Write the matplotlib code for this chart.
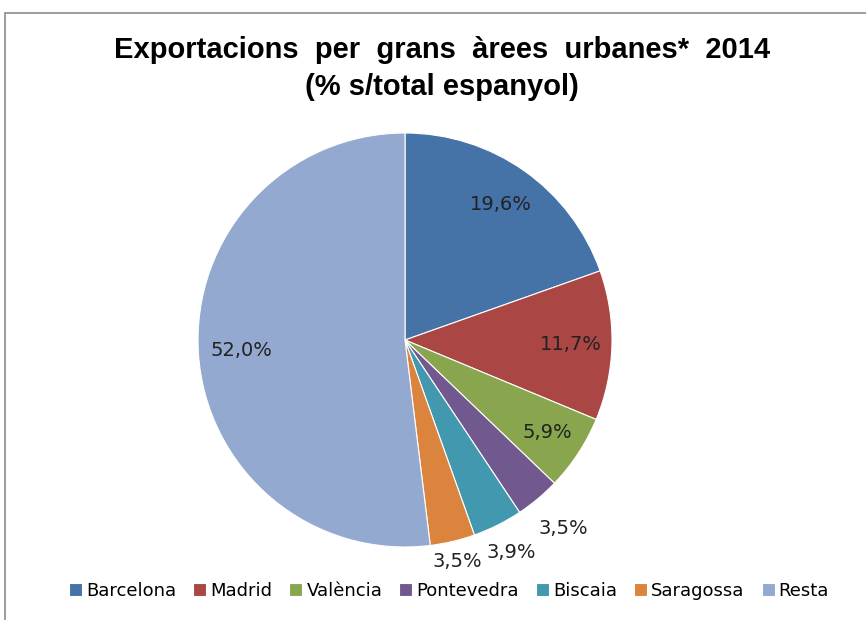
import matplotlib.pyplot as plt
import numpy as np
from matplotlib.patches import Rectangle

areas = ['Barcelona', 'Madrid', 'València', 'Pontevedra', 'Biscaia', 'Saragossa', 'Resta']
shares = [19.6, 11.7, 5.9, 3.5, 3.9, 3.5, 52.0]
colors = ['#4572A7', '#AA4643', '#89A54E', '#71588F', '#4198AF', '#DB843D', '#93A9CF']
# radial position of each data label (fraction of radius)
label_r = [0.80, 0.80, 0.82, 1.19, 1.15, 1.10, 0.79]

fig = plt.figure(figsize=(8.66, 6.2), dpi=100)

# chart frame (cut by the right and bottom image edges)
fig.patches.append(Rectangle((5 / 866, -0.05), 1.0, 1 - 13 / 620 + 0.05,
                             transform=fig.transFigure, fill=False,
                             edgecolor='#8c8c8c', linewidth=1.2))

fig.text(442 / 866, 1 - 50 / 620, 'Exportacions  per  grans  àrees  urbanes*  2014',
         ha='center', va='center', fontsize=21, fontweight='bold',
         family='Liberation Sans')
fig.text(442 / 866, 1 - 87 / 620, '(% s/total espanyol)',
         ha='center', va='center', fontsize=21, fontweight='bold',
         family='Liberation Sans')

ax = fig.add_axes([198 / 866, 73 / 620, 414 / 866, 414 / 620])
wedges, _ = ax.pie(shares, colors=colors, startangle=90, counterclock=False,
                   radius=1.0, wedgeprops=dict(edgecolor='white', linewidth=0.8))
ax.set_xlim(-1, 1)
ax.set_ylim(-1, 1)
ax.set_aspect('equal')

for w, v, r in zip(wedges, shares, label_r):
    ang = np.radians((w.theta1 + w.theta2) / 2)
    ax.text(r * np.cos(ang), r * np.sin(ang), f'{v:.1f}%'.replace('.', ','),
            ha='center', va='center', fontsize=14, family='DejaVu Sans', color='#222222')

fig.legend(wedges, areas, loc='center', bbox_to_anchor=(449 / 866, 1 - 591 / 620),
           ncol=7, frameon=False, prop={'family': 'DejaVu Sans', 'size': 13},
           handlelength=0.72, handleheight=0.72, handletextpad=0.22, columnspacing=0.95)

fig.savefig('out.png', dpi=100)
